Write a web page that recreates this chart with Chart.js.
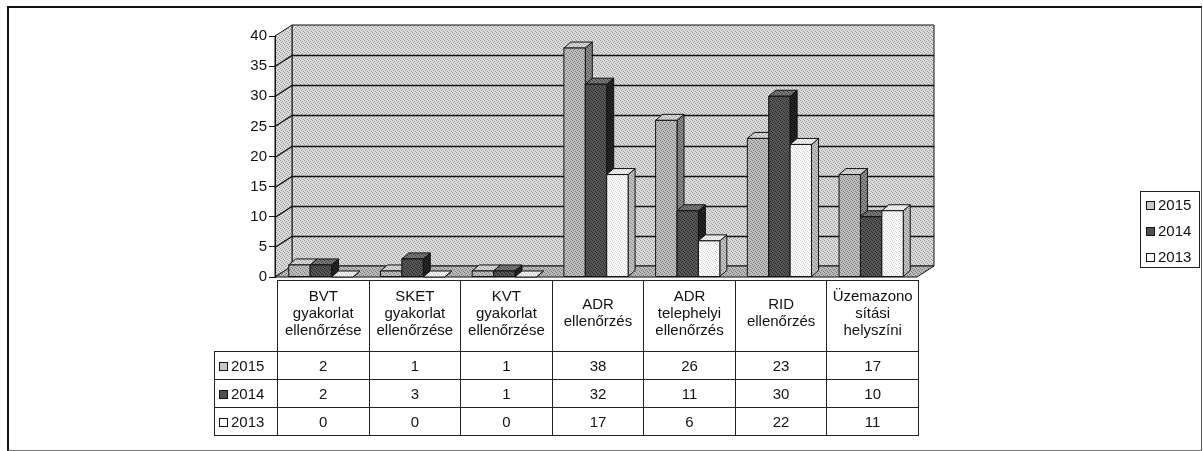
<!DOCTYPE html>
<html>
<head>
<meta charset="utf-8">
<script src="https://cdn.jsdelivr.net/npm/chart.js@4.4.1/dist/chart.umd.min.js"></script>
<style>
  html, body { margin: 0; padding: 0; background: #fff; }
  body { width: 1203px; height: 451px; position: relative; overflow: hidden; font-family: "Liberation Sans", Arial, sans-serif; color: #111; }
  #frame { position: absolute; left: 7px; top: 6px; width: 1192px; height: 442px; border-top: 2px solid #111; border-left: 2px solid #111; border-right: 1px solid #555; border-bottom: 1px solid #777; }
  #chart { position: absolute; left: 0; top: 0; }
  #data-table { position: absolute; left: 214px; top: 280px; border-collapse: collapse; table-layout: fixed; font-size: 15px; }
  #data-table td { border: 1px solid #222; text-align: center; padding: 0; }
  #data-table thead td { height: 62px; line-height: 17px; vertical-align: middle; padding-bottom: 8px; }
  #data-table thead td.blank { border-top: none; border-left: none; }
  #data-table tbody td { height: 27px; }
  #data-table tbody td.series { text-align: left; padding-left: 4px; white-space: nowrap; }
  .key { display: inline-block; width: 7px; height: 7px; border: 1px solid #111; margin-right: 3px; vertical-align: 0px; }
  #legend { position: absolute; left: 1140px; top: 191px; width: 58px; height: 75px; border: 1px solid #222; font-size: 15px; }
  #legend div { height: 26px; line-height: 26px; padding-left: 5px; white-space: nowrap; }
</style>
</head>
<body>
<div id="frame"></div>
<canvas id="chart" width="1203" height="451"></canvas>
<table id="data-table"><colgroup id="cols"></colgroup><thead></thead><tbody></tbody></table>
<div id="legend"></div>
<script>
const categories = [
  ["BVT", "gyakorlat", "ellenőrzése"],
  ["SKET", "gyakorlat", "ellenőrzése"],
  ["KVT", "gyakorlat", "ellenőrzése"],
  ["ADR", "ellenőrzés"],
  ["ADR", "telephelyi", "ellenőrzés"],
  ["RID", "ellenőrzés"],
  ["Üzemazono", "sítási", "helyszíni"],
];
const seriesNames = ["2015", "2014", "2013"];
const values2015 = [2, 1, 1, 38, 26, 23, 17];
const values2014 = [2, 3, 1, 32, 11, 30, 10];
const values2013 = [0, 0, 0, 17, 6, 22, 11];
const yMax = 40;
const yStep = 5;

// small dither patterns to imitate the scanned stipple
function stipple(base, dot) {
  const c = document.createElement("canvas");
  c.width = c.height = 4;
  const g = c.getContext("2d");
  g.fillStyle = base;
  g.fillRect(0, 0, 4, 4);
  g.fillStyle = dot;
  [[0, 0], [2, 1], [1, 2], [3, 3]].forEach(([x, y]) => g.fillRect(x, y, 1, 1));
  return g.createPattern(c, "repeat");
}

const styles = [
  { solid: "#b0b0b0", front: stipple("#c0c0c0", "#767676"), side: stipple("#8c8c8c", "#4c4c4c"), top: stipple("#dadada", "#9a9a9a") },
  { solid: "#4a4a4a", front: stipple("#585858", "#262626"), side: stipple("#262626", "#0c0c0c"), top: stipple("#7a7a7a", "#404040") },
  { solid: "#f6f6f6", front: stipple("#fbfbfb", "#d0d0d0"), side: stipple("#c4c4c4", "#858585"), top: stipple("#f2f2f2", "#c8c8c8") },
];
const wallFill = stipple("#dcdcdc", "#9a9a9a");
const floorFill = stipple("#bcbcbc", "#747474");
const DEPTH_X = 17, DEPTH_Y = -11;   // wall depth
const BAR_DX = 7, BAR_DY = -6;       // bar depth

function poly(ctx, pts, fill) {
  ctx.beginPath();
  pts.forEach(([x, y], i) => (i ? ctx.lineTo(x, y) : ctx.moveTo(x, y)));
  ctx.closePath();
  ctx.fillStyle = fill;
  ctx.fill();
  ctx.stroke();
}

const walls = {
  id: "walls",
  beforeDraw(chart) {
    const { ctx, chartArea: a, scales } = chart;
    const y = scales.y;
    ctx.save();
    ctx.strokeStyle = "#111";
    ctx.lineWidth = 1;
    poly(ctx, [[a.left + DEPTH_X, a.top + DEPTH_Y], [a.right + DEPTH_X, a.top + DEPTH_Y], [a.right + DEPTH_X, a.bottom + DEPTH_Y], [a.left + DEPTH_X, a.bottom + DEPTH_Y]], wallFill);
    poly(ctx, [[a.left, a.top], [a.left + DEPTH_X, a.top + DEPTH_Y], [a.left + DEPTH_X, a.bottom + DEPTH_Y], [a.left, a.bottom]], wallFill);
    poly(ctx, [[a.left, a.bottom], [a.left + DEPTH_X, a.bottom + DEPTH_Y], [a.right + DEPTH_X, a.bottom + DEPTH_Y], [a.right, a.bottom]], floorFill);
    ctx.lineWidth = 1.3;
    for (let v = yStep; v < yMax; v += yStep) {
      const py = Math.round(y.getPixelForValue(v)) + 0.5;
      ctx.beginPath();
      ctx.moveTo(a.left, py);
      ctx.lineTo(a.left + DEPTH_X, py + DEPTH_Y);
      ctx.lineTo(a.right + DEPTH_X, py + DEPTH_Y);
      ctx.stroke();
    }
    ctx.restore();
  },
};

const bars3d = {
  id: "bars3d",
  afterDatasetsDraw(chart) {
    const ctx = chart.ctx;
    ctx.save();
    ctx.strokeStyle = "#111";
    ctx.lineWidth = 1;
    ctx.lineJoin = "round";
    for (let i = 0; i < categories.length; i++) {
      chart.data.datasets.forEach((ds, d) => {
        const el = chart.getDatasetMeta(d).data[i];
        const st = styles[d];
        const l = el.x - el.width / 2, r = el.x + el.width / 2, t = el.y, b = el.base;
        poly(ctx, [[r, t], [r + BAR_DX, t + BAR_DY], [r + BAR_DX, b + BAR_DY], [r, b]], st.side);
        poly(ctx, [[l, t], [l + BAR_DX, t + BAR_DY], [r + BAR_DX, t + BAR_DY], [r, t]], st.top);
        if (b - t > 0.5) poly(ctx, [[l, t], [r, t], [r, b], [l, b]], st.front);
      });
    }
    ctx.restore();
  },
};

const datasets = [values2015, values2014, values2013].map((data, idx) => ({
  label: seriesNames[idx],
  data,
  backgroundColor: styles[idx].solid,
  borderWidth: 0,
  categoryPercentage: 0.7,
  barPercentage: 1.0,
}));

new Chart(document.getElementById("chart"), {
  type: "bar",
  data: { labels: categories.map((c) => c.join(" ")), datasets },
  options: {
    responsive: false,
    animation: false,
    devicePixelRatio: 1,
    layout: { padding: { left: 214, right: 286, top: 36, bottom: 174 } },
    plugins: { legend: { display: false }, tooltip: { enabled: false } },
    scales: {
      x: { display: false },
      y: {
        min: 0,
        max: yMax,
        afterFit: (s) => { s.width = 61; },
        ticks: { stepSize: yStep, color: "#111", font: { family: "Liberation Sans", size: 15 }, padding: 2 },
        grid: { drawOnChartArea: false, color: "#111", tickLength: 6 },
        border: { display: true, color: "#111" },
      },
    },
  },
  plugins: [walls, bars3d],
});

// data table under the plot
const colgroup = document.getElementById("cols");
colgroup.innerHTML = `<col style="width:63px">` + categories.map(() => `<col style="width:91.57px">`).join("");
document.querySelector("#data-table thead").innerHTML =
  `<tr><td class="blank"></td>${categories.map((c) => `<td>${c.join("<br>")}</td>`).join("")}</tr>`;
const keyFills = ["#c8c8c8", "#505050", "#ffffff"];
document.querySelector("#data-table tbody").innerHTML = [values2015, values2014, values2013]
  .map(
    (vals, idx) => `
      <tr>
        <td class="series"><span class="key" style="background:${keyFills[idx]}"></span>${seriesNames[idx]}</td>
        ${vals.map((v) => `<td>${v}</td>`).join("")}
      </tr>`,
  )
  .join("");
document.getElementById("legend").innerHTML = seriesNames
  .map((name, idx) => `<div><span class="key" style="background:${keyFills[idx]}"></span>${name}</div>`)
  .join("");
</script>
</body>
</html>
